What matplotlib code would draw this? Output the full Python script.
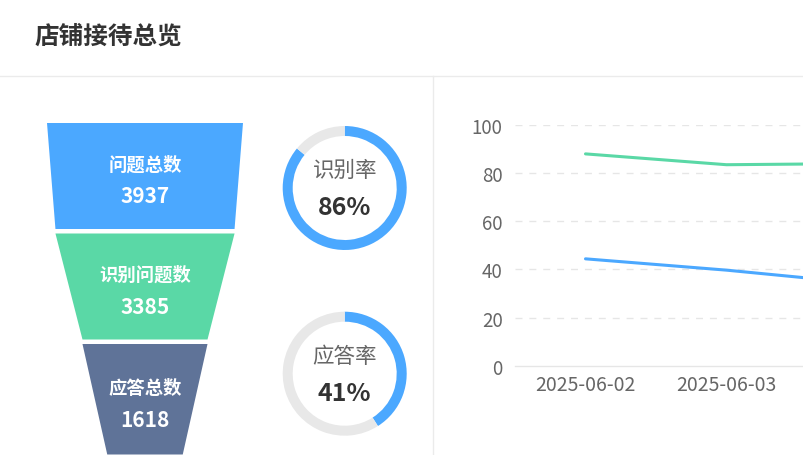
import matplotlib
matplotlib.use("Agg")
import matplotlib.pyplot as plt
from matplotlib.patches import Polygon

plt.rcParams['font.family'] = ['Noto Sans CJK SC', 'DejaVu Sans']

# ---------------- data ----------------
title = "店铺接待总览"
funnel_labels = ["问题总数", "识别问题数", "应答总数"]
funnel_values = [3937, 3385, 1618]
rate_labels = ["识别率", "应答率"]
rate_values = [86, 41]
dates = ["2025-06-02", "2025-06-03", "2025-06-04"]
recog_rate = [88, 83.5, 84]
answer_rate = [44.4, 39.7, 34]

# ---------------- styles ----------------
W, H = 804, 456
BLUE = "#4BA8FF"
GREEN = "#5AD8A6"
NAVY = "#5F7398"
TRACK = "#E8E8E8"
funnel_colors = [BLUE, GREEN, NAVY]

fig = plt.figure(figsize=(W / 100, H / 100), dpi=100)
fig.patch.set_facecolor("white")

# canvas axes in pixel coordinates
cv = fig.add_axes([0, 0, 1, 1])
cv.set_xlim(0, W)
cv.set_ylim(H, 0)
cv.axis("off")

cv.text(34, 37, title, fontsize=17.7, fontweight="bold", color="#333333",
        ha="left", va="center")
cv.plot([0, W], [77, 77], color="#EBEBEB", lw=1)
cv.plot([433, 433], [77, H], color="#EBEBEB", lw=1)

# ---------------- funnel ----------------
cx, ftop, fbot = 145, 124, 455.5
maxW, minW, gap = 196, 75.5, 4.5
vmax = max(funnel_values)


def fw(v):
    return minW + (maxW - minW) * v / vmax


n = len(funnel_values)
ih = (fbot - ftop) / n
for i, (lab, v) in enumerate(zip(funnel_labels, funnel_values)):
    y0 = ftop + i * ih
    y1 = y0 + ih - (gap if i < n - 1 else 0)
    nv = funnel_values[i + 1] if i < n - 1 else 0
    wt, wb = fw(v) / 2, fw(nv) / 2
    poly = Polygon([(cx - wt, y0), (cx + wt, y0), (cx + wb, y1), (cx - wb, y1)],
                   closed=True, facecolor=funnel_colors[i], edgecolor="none")
    cv.add_patch(poly)
    yc = (y0 + y1) / 2
    cv.text(cx, yc - 12, lab, color="white", fontsize=13.2, fontweight="bold",
            ha="center", va="center")
    cv.text(cx, yc + 20, str(v), color="white", fontsize=15, fontweight="bold",
            ha="center", va="center")

# ---------------- donuts ----------------
dcx = 344.7
dcys = [189, 374.7]
R, ring = 62, 10
for lab, val, dcy in zip(rate_labels, rate_values, dcys):
    ax = fig.add_axes([(dcx - R) / W, (H - dcy - R) / H, 2 * R / W, 2 * R / H])
    ax.pie([val, 100 - val], colors=[BLUE, TRACK], startangle=90,
           counterclock=False, radius=1,
           wedgeprops=dict(width=ring / R, edgecolor="none"))
    ax.set_xlim(-1, 1)
    ax.set_ylim(-1, 1)
    ax.set_aspect("auto")
    ax.axis("off")
    cv.text(dcx, dcy - 18, lab, color="#666666", fontsize=15.5,
            ha="center", va="center")
    cv.text(dcx, dcy + 19, f"{val}%", color="#333333", fontsize=18,
            fontweight="bold", ha="center", va="center")

# ---------------- line chart ----------------
band = 141
x_left, y_top, y_bot = 515, 126, 366.7
x_right = x_left + band * len(dates)
lax = fig.add_axes([x_left / W, (H - y_bot) / H, (x_right - x_left) / W,
                    (y_bot - y_top) / H])
lax.set_facecolor("none")
xs = list(range(len(dates)))
lax.plot(xs, recog_rate, color=GREEN, lw=2.2, solid_capstyle="round")
lax.plot(xs, answer_rate, color=BLUE, lw=2.2, solid_capstyle="round")
lax.set_xlim(-0.5, len(dates) - 0.5)
lax.set_ylim(0, 100)
lax.set_yticks([0, 20, 40, 60, 80, 100])
lax.set_xticks(xs)
lax.set_xticklabels(dates)
# labels beyond the visible canvas are not shown in the reference
for t in lax.get_xticklabels()[2:]:
    t.set_visible(False)
for yv in [20, 40, 60, 80, 100]:
    lax.axhline(yv, color="#E6E6E6", lw=1, ls=(0, (5, 5)), zorder=0)
for s in ["top", "right", "left"]:
    lax.spines[s].set_visible(False)
lax.spines["bottom"].set_color("#E6E6E6")
lax.spines["bottom"].set_linewidth(1)
lax.tick_params(axis="both", length=0, labelcolor="#666666", labelsize=13.5)
lax.tick_params(axis="x", labelsize=14)
lax.tick_params(axis="y", pad=9)
lax.tick_params(axis="x", pad=6)

fig.savefig("out.png", dpi=100, facecolor="white")
